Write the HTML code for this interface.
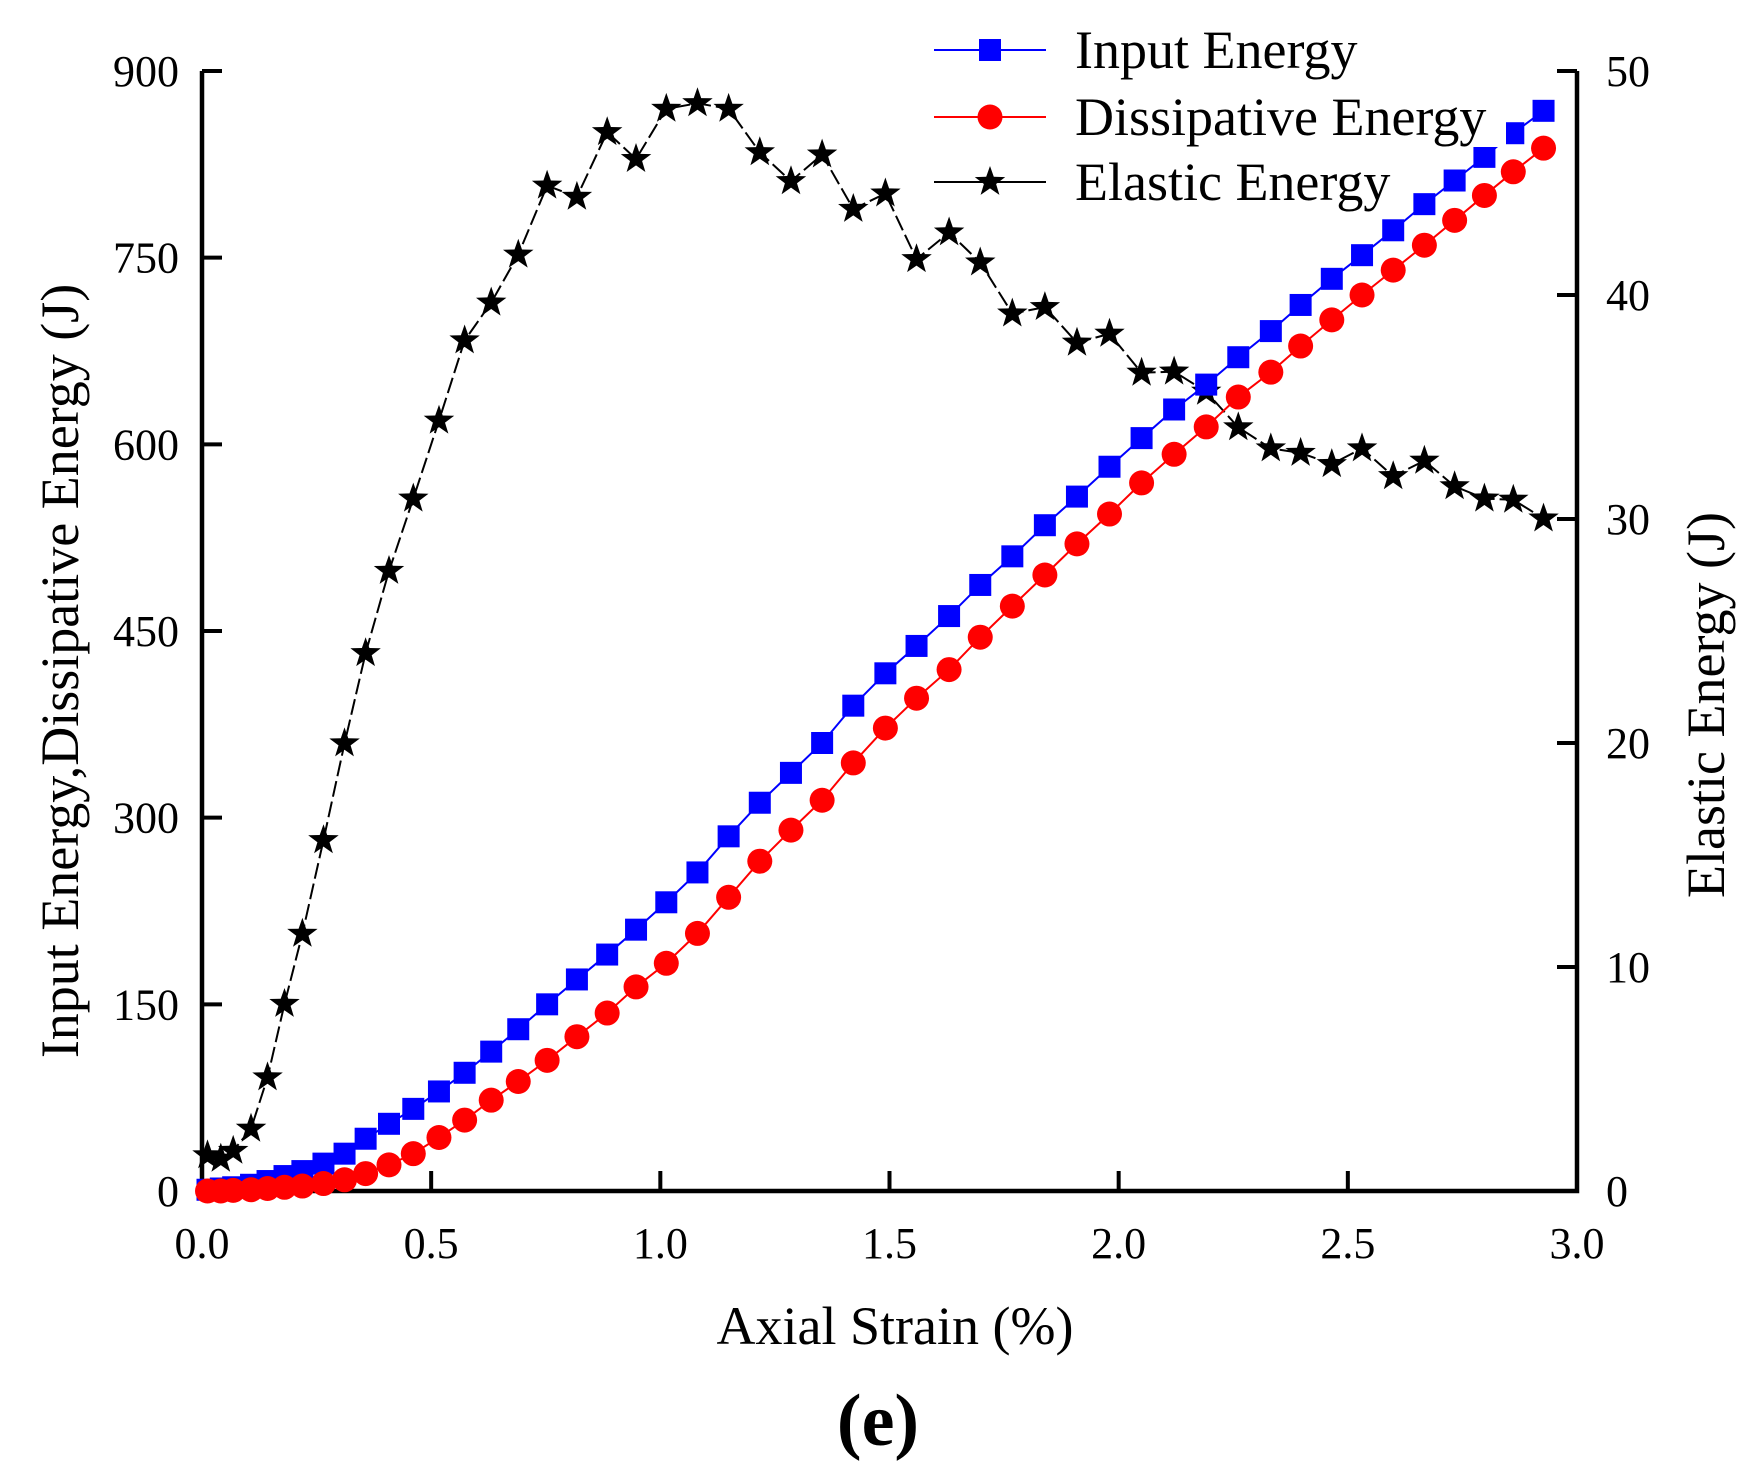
<!DOCTYPE html>
<html><head><meta charset="utf-8"><style>
html,body{margin:0;padding:0;background:#fff;}
svg{display:block;font-family:"Liberation Serif",serif;}
</style></head><body>
<svg id="chart" width="1746" height="1467" viewBox="0 0 1746 1467"></svg>
<script>
const strain=[0.012,0.041,0.068,0.107,0.143,0.180,0.219,0.265,0.311,0.357,0.408,0.461,0.517,0.573,0.631,0.690,0.753,0.818,0.884,0.947,1.013,1.081,1.149,1.217,1.285,1.353,1.421,1.491,1.559,1.630,1.698,1.768,1.839,1.909,1.980,2.050,2.121,2.191,2.261,2.332,2.397,2.465,2.531,2.599,2.667,2.733,2.798,2.861,2.927];
const inputEnergy=[1,2,3,5,8,12,16,22,30,42,54,66,80,95,112,130,150,170,190,210,232,256,285,312,336,360,390,416,438,462,487,510,535,558,582,605,628,648,670,691,712,733,752,772,793,812,831,850,868];
const dissipEnergy=[0,0,0.5,1,2,3,4,6,9,14,21,30,43,57,73,88,105,124,143,164,183,207,236,265,290,314,344,372,396,419,445,470,495,520,544,569,592,614,638,658,679,700,720,740,760,780,800,819,838];
const elasticEnergy=[1.59,1.44,1.79,2.78,5.07,8.35,11.48,15.66,19.98,24.01,27.68,30.91,34.39,37.97,39.66,41.80,44.88,44.38,47.27,46.07,48.31,48.56,48.31,46.37,45.08,46.27,43.84,44.53,41.60,42.79,41.45,39.17,39.46,37.87,38.27,36.53,36.58,35.68,34.09,33.15,32.95,32.45,33.15,31.91,32.60,31.46,30.91,30.86,30.02];
const xTicks=["0.0","0.5","1.0","1.5","2.0","2.5","3.0"];
const yLeftTicks=["0","150","300","450","600","750","900"];
const yRightTicks=["0","10","20","30","40","50"];

const NS="http://www.w3.org/2000/svg";
const svg=document.getElementById('chart');
const L=202,R=1577,T=71,B=1191;
const X=v=>L+(v/3)*(R-L);
const YL=v=>B-(v/900)*(B-T);
const YR=v=>B-(v/50)*(B-T);
function mk(tag,attrs,parent){const e=document.createElementNS(NS,tag);for(const k in attrs)e.setAttribute(k,attrs[k]);(parent||svg).appendChild(e);return e;}
function txt(s,attrs){const e=mk('text',attrs);e.textContent=s;return e;}

let ax=mk('path',{d:`M${L},${T} L${L},${B} L${R},${B} L${R},${T}`,fill:'none',stroke:'#000','stroke-width':4.5});


xTicks.forEach((t,i)=>{const x=X(+t);
 const tk=mk('line',{x1:x,y1:B,x2:x,y2:B-20,stroke:'#000','stroke-width':4});
 
 
 const lb=txt(t,{x:x,y:1258,'font-size':44,'text-anchor':'middle'});
 
 
});
yLeftTicks.forEach(t=>{const y=YL(+t);
 const tk=mk('line',{x1:L,y1:y,x2:L+20,y2:y,stroke:'#000','stroke-width':4});
 
 
 const lb=txt(t,{x:179,y:y+15,'font-size':44,'text-anchor':'end'});
 
 
});
yRightTicks.forEach(t=>{const y=YR(+t);
 const tk=mk('line',{x1:R,y1:y,x2:R-20,y2:y,stroke:'#000','stroke-width':4});
 
 
 const lb=txt(t,{x:1606,y:y+15,'font-size':44,'text-anchor':'start'});
 
 
});
let t1=txt('Axial Strain (%)',{x:895,y:1344,'font-size':54,'text-anchor':'middle'});


let t2=txt('Input Energy,Dissipative Energy (J)',{x:0,y:0,'font-size':54,'text-anchor':'middle',transform:'translate(78,671) rotate(-90)'});


let t3=txt('Elastic Energy (J)',{x:0,y:0,'font-size':54,'text-anchor':'middle',transform:'translate(1724,705) rotate(-90)'});


let t4=txt('(e)',{x:878,y:1445,'font-size':74,'font-weight':'bold','text-anchor':'middle'});



function starPts(cx,cy,r){let p=[];for(let i=0;i<10;i++){const a=-Math.PI/2+i*Math.PI/5;const rr=i%2?r*0.4:r;p.push((cx+rr*Math.cos(a)).toFixed(1)+','+(cy+rr*Math.sin(a)).toFixed(1));}return p.join(' ');}
function marker(kind,x,y,color,name){let e;
 if(kind==='sq')e=mk('rect',{x:x-11,y:y-11,width:22,height:22,fill:color});
 else if(kind==='ci')e=mk('circle',{cx:x,cy:y,r:12.5,fill:color});
 else e=mk('polygon',{points:starPts(x,y,16),fill:color});
 
 
}
let pe=mk('polyline',{points:strain.map((s,i)=>X(s)+','+YR(elasticEnergy[i])).join(' '),fill:'none',stroke:'#000','stroke-width':2,'stroke-dasharray':'16,5'});


strain.forEach((s,i)=>marker('st',X(s),YR(elasticEnergy[i]),'#000','elastic-energy-point'));
let pi=mk('polyline',{points:strain.map((s,i)=>X(s)+','+YL(inputEnergy[i])).join(' '),fill:'none',stroke:'#00f','stroke-width':2});


strain.forEach((s,i)=>marker('sq',X(s),YL(inputEnergy[i]),'#00f','input-energy-point'));
let pd=mk('polyline',{points:strain.map((s,i)=>X(s)+','+YL(dissipEnergy[i])).join(' '),fill:'none',stroke:'#f00','stroke-width':2});


strain.forEach((s,i)=>marker('ci',X(s),YL(dissipEnergy[i]),'#f00','dissipative-energy-point'));

const leg=[['Input Energy','#00f','sq',50],['Dissipative Energy','#f00','ci',117],['Elastic Energy','#000','st',182]];
leg.forEach(l=>{
 const bg=mk('rect',{x:1074,y:l[3]-32,width:l[0].length*24,height:62,fill:'#fff'});
 
 
 const ln=mk('line',{x1:934,y1:l[3],x2:1046,y2:l[3],stroke:l[1],'stroke-width':2});
 
 
 marker(l[2],990,l[3],l[1],'legend-marker');
 const tx=txt(l[0],{x:1075,y:l[3]+18,'font-size':54});
 
 
});
</script>
</body></html>
